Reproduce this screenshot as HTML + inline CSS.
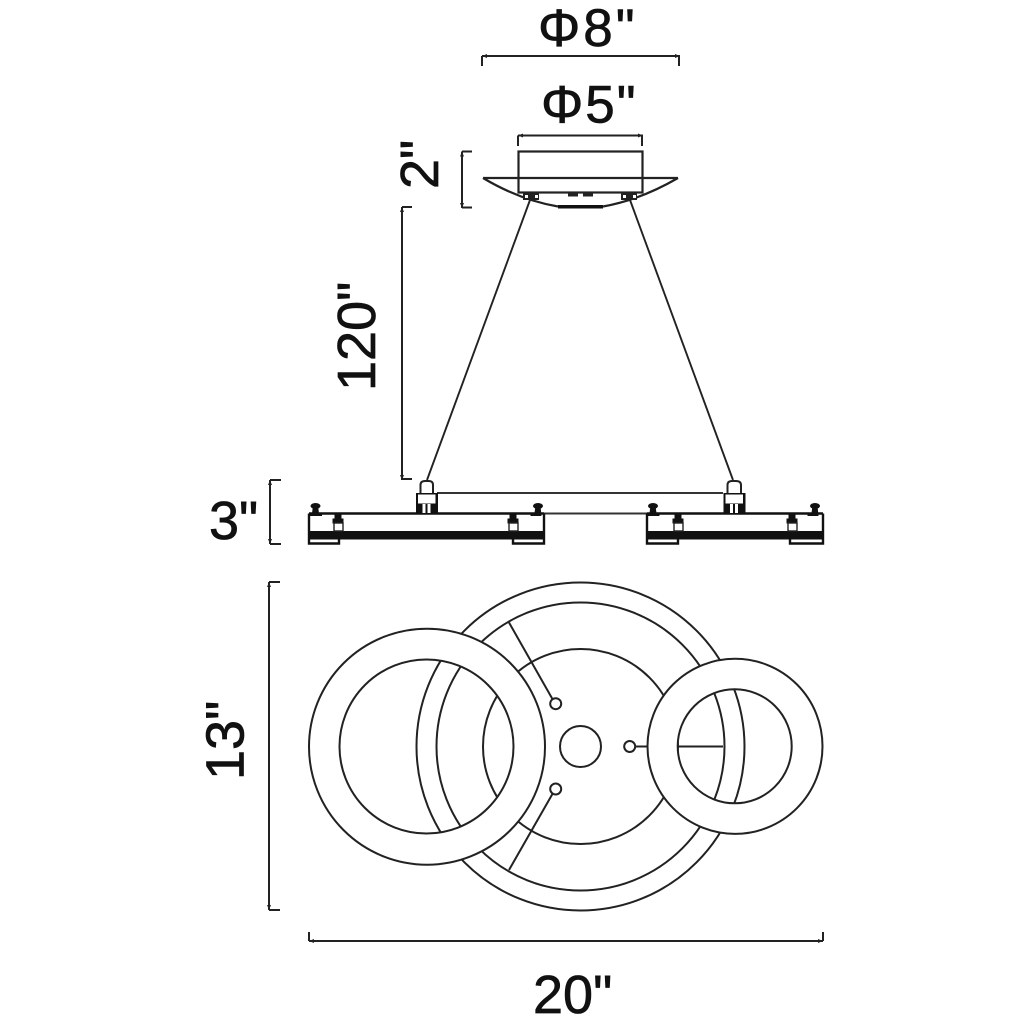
<!DOCTYPE html>
<html>
<head>
<meta charset="utf-8">
<style>
html,body{margin:0;padding:0;background:#fff;width:1024px;height:1024px;overflow:hidden}
svg{display:block}
text{font-family:"Liberation Sans",sans-serif;font-size:54px;fill:#111;stroke:#111;stroke-width:.7px}
</style>
</head>
<body>
<svg width="1024" height="1024" viewBox="0 0 1024 1024" xmlns="http://www.w3.org/2000/svg">
<rect width="1024" height="1024" fill="#fff"/>

<!-- labels -->
<text x="538" y="46" style="font-size:53px;letter-spacing:3px">Φ8"</text>
<text x="541" y="122.500" style="font-size:53px;letter-spacing:2px">Φ5"</text>
<text transform="translate(438 189) rotate(-90)" style="font-size:54px">2"</text>
<text transform="translate(375 391) rotate(-90)" style="font-size:54px">120"</text>
<text x="209" y="539">3"</text>
<text transform="translate(243.500 780) rotate(-90)">13"</text>
<text x="533" y="1013">20"</text>

<!-- dimension lines -->
<g fill="none" stroke="#222" stroke-width="2">
  <path d="M482 56H680M482 56V66M679 56V66"/>
  <path d="M518 135.500H643M518 135.500V146M642 135.500V146"/>
  <path d="M462 151.500V208M462 151.500H472M462 207.500H472"/>
  <path d="M402 207V480M402 207H412M402 479H412"/>
  <path d="M270 480V544M270 480H281M270 544H281"/>
  <path d="M269 582V910M269 582H280M269 910H280"/>
  <path d="M309 941H823M309 941V932M823 941V932"/>
</g>
<g fill="#222">
  <path d="M482 56l5-2v4zM680 56l-5-2v4zM518 135.500l5-2v4zM643 135.500l-5-2v4z"/>
  <path d="M462 151.500l-2 5h4zM462 208l-2-5h4zM402 207l-2 5h4zM402 480l-2-5h4z"/>
  <path d="M270 480l-2 5h4zM270 544l-2-5h4zM269 582l-2 5h4zM269 910l-2-5h4z"/>
  <path d="M309 941l5-2v4zM823 941l-5-2v4z"/>
</g>

<!-- canopy -->
<g fill="none" stroke="#222" stroke-width="2.200">
  <rect x="518.500" y="151.500" width="124" height="41"/>
  <path d="M483 178H678M483 178Q520 200 558 206.500M603 206.500Q640 200 678 178"/>
</g>
<rect x="558" y="205" width="45" height="3.500" fill="#111"/>
<g fill="#222">
  <rect x="523" y="193" width="16" height="7"/>
  <rect x="621" y="193" width="16" height="7"/>
  <rect x="568" y="193" width="10" height="3.500"/>
  <rect x="583" y="193" width="10" height="3.500"/>
</g>
<g fill="#fff">
  <rect x="525" y="195" width="3" height="3"/>
  <rect x="535" y="195" width="3" height="3"/>
  <rect x="623" y="195" width="3" height="3"/>
  <rect x="633" y="195" width="3" height="3"/>
</g>

<!-- cables -->
<path d="M530 200L427 480M630 200L733 480" fill="none" stroke="#222" stroke-width="1.900"/>

<!-- side view connecting lines -->
<path d="M437 493H723M544 513.500H647" fill="none" stroke="#333" stroke-width="2"/>

<!-- left bar -->
<g fill="none" stroke="#111" stroke-width="2.400">
  <path d="M309 513.500H544"/>
  <path d="M309 513.500V543.500H339V539M544 513.500V543.500H513V539"/>
</g>
<rect x="309" y="531" width="235" height="8.500" fill="#111"/>
<!-- right bar -->
<g fill="none" stroke="#111" stroke-width="2.400">
  <path d="M647 513.500H823"/>
  <path d="M647 513.500V543.500H678V539M823 513.500V543.500H790V539"/>
</g>
<rect x="647" y="531" width="176" height="8.500" fill="#111"/>

<!-- outer screws -->
<g fill="#111">
  <ellipse cx="315.500" cy="506" rx="5" ry="3"/>
  <path d="M313 506h5l1 7h3v3h-13v-3h3z"/>
  <ellipse cx="538" cy="506" rx="5" ry="3"/>
  <path d="M535.500 506h5l1 10h-11v-3h4z"/>
  <ellipse cx="653" cy="506" rx="5" ry="3"/>
  <path d="M650.500 506h5l1 7h3v3h-13v-3h3z"/>
  <ellipse cx="815" cy="506" rx="5" ry="3"/>
  <path d="M812.500 506h5l1 10h-11v-3h4z"/>
</g>
<!-- inner brackets -->
<g fill="#111" stroke="#111" stroke-width="1">
  <path d="M335 514h6v5h2v4h-10v-4h2z"/>
  <path d="M510 514h6v5h2v4h-10v-4h2z"/>
  <path d="M675 514h6v5h2v4h-10v-4h2z"/>
  <path d="M789 514h6v5h2v4h-10v-4h2z"/>
</g>
<g fill="#fff" stroke="#222" stroke-width="1.400">
  <rect x="334" y="523" width="9" height="8"/>
  <rect x="509" y="523" width="9" height="8"/>
  <rect x="674" y="523" width="9" height="8"/>
  <rect x="788" y="523" width="9" height="8"/>
</g>

<!-- hangers -->
<g>
  <rect x="416" y="493" width="22" height="20.500" fill="#111"/>
  <rect x="418" y="494.500" width="17.500" height="9" fill="#fff"/>
  <rect x="422.500" y="504" width="3" height="9" fill="#fff"/>
  <rect x="427.500" y="504" width="3" height="9" fill="#fff"/>
  <path d="M420.500 493V485Q420.500 481 425 481H429Q433 481 433 485V493" fill="#fff" stroke="#222" stroke-width="2"/>

  <rect x="723.500" y="493" width="22" height="20.500" fill="#111"/>
  <rect x="725.500" y="494.500" width="17.500" height="9" fill="#fff"/>
  <rect x="730" y="504" width="3" height="9" fill="#fff"/>
  <rect x="735" y="504" width="3" height="9" fill="#fff"/>
  <path d="M727.500 493V485Q727.500 481 732 481H736Q741 481 741 485V493" fill="#fff" stroke="#222" stroke-width="2"/>
</g>

<!-- plan view -->
<g fill="none" stroke="#222" stroke-width="2">
  <circle cx="580.500" cy="746.500" r="164"/>
  <circle cx="580.500" cy="746.500" r="144"/>
  <circle cx="580.500" cy="746.500" r="97.500"/>
  <path d="M509 622.500L553 700M509 870L553 793M636 746.500H700"/>
  <path d="M678 746.500H723"/>
</g>
<g fill="#fff" stroke="#222" stroke-width="2">
  <circle cx="580.500" cy="746.500" r="20.500"/>
  <circle cx="555.700" cy="703.700" r="5.500"/>
  <circle cx="555.700" cy="789" r="5.500"/>
  <circle cx="629.700" cy="746.500" r="5.500"/>
</g>
<!-- rings -->
<g stroke="#222" stroke-width="2" fill="#fff" fill-rule="evenodd">
  <path d="M309 746.700a118 118 0 1 0 236 0a118 118 0 1 0 -236 0zM339.500 746.500a87 87 0 1 0 174 0a87 87 0 1 0 -174 0z"/>
  <path d="M647.500 746.300a87.500 87.500 0 1 0 175 0a87.500 87.500 0 1 0 -175 0zM677.700 746.300a57 57 0 1 0 114 0a57 57 0 1 0 -114 0z"/>
</g>
</svg>
</body>
</html>
